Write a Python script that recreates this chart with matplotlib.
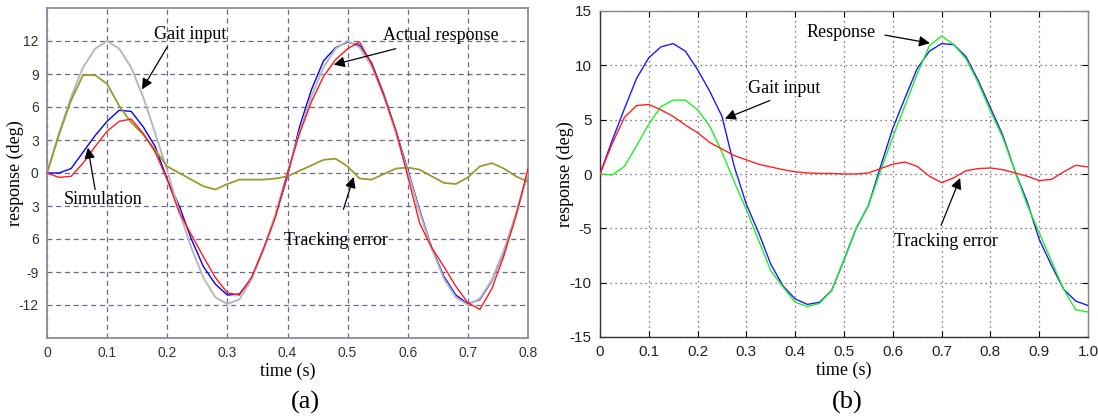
import numpy as np
import matplotlib
matplotlib.use("Agg")
import matplotlib.pyplot as plt

plt.rcParams["axes.unicode_minus"] = False

# ---------------- data: panel (a) ----------------
t_a = [round(0.02 * i, 2) for i in range(41)]
gait_a = [0, 3.6, 6.9, 9.6, 11.3, 12.0, 11.3, 9.6, 6.9, 3.6, 0.2, -3.5, -6.8, -9.5, -11.3,
          -11.9, -11.5, -9.7, -7.0, -3.7, 0, 3.7, 7.0, 9.6, 11.3, 12.0, 11.4, 9.7, 7.0, 3.7,
          0.1, -3.6, -6.9, -9.6, -11.3, -12.0, -11.4, -9.7, -7.0, -3.7, 0]
sim_a = [0, 0.0, 0.4, 1.9, 3.4, 4.7, 5.7, 5.6, 4.2, 2.4, -0.6, -3.0, -6.0, -8.5, -10.1,
         -11.1, -11.0, -9.6, -6.9, -3.9, -0.3, 4.2, 7.6, 10.2, 11.4, 11.9, 11.6, 10.0, 7.2,
         3.9, 0.3, -3.4, -6.8, -9.4, -11.1, -11.9, -11.5, -9.8, -7.1, -3.8, 0]
actual_a = [0, -0.4, -0.3, 0.9, 2.4, 3.8, 4.7, 4.9, 3.6, 1.9, -0.6, -3.6, -5.6, -7.6, -9.5,
            -10.9, -11.1, -9.5, -6.9, -4.0, 0, 3.6, 6.5, 8.8, 10.3, 11.3, 11.9, 9.9, 7.1,
            3.9, -0.3, -4.6, -6.8, -8.5, -10.3, -11.8, -12.4, -10.5, -7.5, -3.9, 0.4]
error_a = [0, 3.5, 6.6, 8.9, 8.9, 8.1, 6.1, 4.6, 3.5, 2.1, 0.6, 0.0, -0.6, -1.2, -1.5,
           -1.0, -0.6, -0.6, -0.6, -0.5, -0.3, 0.2, 0.7, 1.2, 1.3, 0.6, -0.5, -0.6, -0.1,
           0.4, 0.5, 0.3, -0.3, -0.9, -1.0, -0.4, 0.6, 0.9, 0.4, -0.3, -0.8]
yticks_a = [-12, -9, -6, -3, 0, 3, 6, 9, 12]
ylabels_a = ["-12", "-9", "6", "3", "0", "3", "6", "9", "12"]
xticks_a = [0, 0.1, 0.2, 0.3, 0.4, 0.5, 0.6, 0.7, 0.8]
xlabels_a = ["0", "0.1", "0.2", "0.3", "0.4", "0.5", "0.6", "0.7", "0.8"]

# ---------------- data: panel (b) ----------------
t_b = [round(0.025 * i, 3) for i in range(41)]
gait_b = [0, 3.1, 6.0, 8.8, 10.7, 11.7, 12.0, 11.3, 9.6, 7.6, 5.3, 0.7, -2.8, -5.4, -8.3,
          -10.3, -11.5, -12.0, -11.8, -10.7, -7.9, -5.0, -2.9, 0.7, 4.2, 7.0, 9.7, 11.3,
          12.0, 11.9, 10.8, 8.6, 6.1, 3.6, 0.3, -2.5, -6.0, -8.4, -10.6, -11.7, -12.1]
resp_b = [0, -0.1, 0.7, 2.6, 4.6, 6.2, 6.8, 6.8, 5.9, 4.4, 2.0, -0.7, -3.3, -6.1, -8.9,
          -10.4, -11.8, -12.2, -11.9, -10.7, -7.9, -5.0, -2.9, 0.3, 3.4, 6.3, 9.2, 11.8,
          12.7, 11.9, 10.6, 8.4, 5.8, 3.4, 0.3, -2.8, -5.4, -8.0, -10.6, -12.5, -12.7]
error_b = [0, 2.8, 5.2, 6.3, 6.4, 5.9, 5.3, 4.5, 3.8, 2.9, 2.3, 1.7, 1.3, 0.9, 0.65,
           0.4, 0.2, 0.1, 0.05, 0.05, 0.0, 0.0, 0.1, 0.5, 0.9, 1.1, 0.7, -0.2, -0.8,
           -0.35, 0.3, 0.5, 0.55, 0.4, 0.1, -0.2, -0.6, -0.5, 0.2, 0.8, 0.65]
yticks_b = [-15, -10, -5, 0, 5, 10, 15]
xticks_b = [0, 0.1, 0.2, 0.3, 0.4, 0.5, 0.6, 0.7, 0.8, 0.9, 1.0]
xlabels_b = ["0", "0.1", "0.2", "0.3", "0.4", "0.5", "0.6", "0.7", "0.8", "0.9", "1.0"]

SERIF = "Liberation Serif"
SANS = "Liberation Sans"

fig = plt.figure(figsize=(10.98, 4.20), dpi=100)
fig.patch.set_facecolor("white")

W, H = 1098.0, 420.0
def rect(x0, y0, x1, y1):
    return [x0 / W, 1 - y1 / H, (x1 - x0) / W, (y1 - y0) / H]

arrow = dict(arrowstyle="-|>", color="black", lw=0.9, mutation_scale=16,
             shrinkA=0, shrinkB=0)

# ---------------- panel (a) ----------------
ax = fig.add_axes(rect(47, 8, 528, 338))
ax.plot(t_a, sim_a, color="#0000ff", lw=1.0, zorder=3)
ax.plot(t_a, gait_a, color="#b8b8b8", lw=1.4, zorder=4)
ax.plot(t_a, error_a, color="#9a9a30", lw=1.3, zorder=4)
ax.plot(t_a, actual_a, color="#ff1a1a", lw=1.0, zorder=5)
ax.set_xlim(0, 0.8)
ax.set_ylim(-15, 15)
ax.set_xticks(xticks_a)
ax.set_xticklabels(xlabels_a)
ax.set_yticks(yticks_a)
ax.set_yticklabels(ylabels_a)
ax.tick_params(length=0, labelsize=10, labelcolor="#333333", pad=6)
for lab in ax.get_xticklabels() + ax.get_yticklabels():
    lab.set_family(SANS)
ax.grid(True, linestyle=(0, (4, 3)), color="#6a6a8c", lw=0.9)
for s in ax.spines.values():
    s.set_color("#8a8aa6")
    s.set_linewidth(1.3)
ax.set_xlabel("time (s)", family=SERIF, fontsize=13, labelpad=2)
ax.set_ylabel("response (deg)", family=SERIF, fontsize=13)
ax.yaxis.set_label_coords((24 - 47) / 481.0, 0.5)

ax.annotate("", xy=(0.158, 7.6), xytext=(0.2, 11.46), arrowprops=arrow, zorder=6)
ax.text(0.238, 12.6, "Gait input", family=SERIF, fontsize=13, ha="center", va="center")
ax.annotate("", xy=(0.068, 2.3), xytext=(0.08, -1.5), arrowprops=arrow, zorder=6)
ax.text(0.093, -2.4, "Simulation", family=SERIF, fontsize=13, ha="center", va="center")
ax.annotate("", xy=(0.477, 9.85), xytext=(0.58, 11.3), arrowprops=arrow, zorder=6)
ax.text(0.655, 12.5, "Actual response", family=SERIF, fontsize=13, ha="center", va="center")
ax.annotate("", xy=(0.51, -0.36), xytext=(0.493, -3.3), arrowprops=arrow, zorder=6)
ax.text(0.48, -6.1, "Tracking error", family=SERIF, fontsize=13, ha="center", va="center")

fig.text(305 / W, 1 - 402 / H, "(a)", family=SERIF, fontsize=19, ha="center", va="center")

# ---------------- panel (b) ----------------
bx = fig.add_axes(rect(600, 11, 1088, 337))
bx.plot(t_b, gait_b, color="#1a1aff", lw=1.0, zorder=3)
bx.plot(t_b, resp_b, color="#22ee22", lw=1.0, zorder=4)
bx.plot(t_b, error_b, color="#ff2020", lw=1.0, zorder=5)
bx.set_xlim(0, 1.0)
bx.set_ylim(-15, 15)
bx.set_xticks(xticks_b)
bx.set_xticklabels(xlabels_b)
bx.set_yticks(yticks_b)
bx.tick_params(direction="in", length=4, width=0.8, top=True, right=True,
               labelsize=11, labelcolor="#222222", pad=6)
for lab in bx.get_xticklabels() + bx.get_yticklabels():
    lab.set_family(SANS)
bx.grid(True, linestyle=(0, (1, 3)), color="#555555", lw=0.9)
for s in bx.spines.values():
    s.set_color("#333333")
    s.set_linewidth(1.0)
bx.spines["right"].set_color("#888888")
bx.spines["top"].set_color("#888888")
bx.set_xlabel("time (s)", family=SERIF, fontsize=13, labelpad=2)
bx.set_ylabel("response (deg)", family=SERIF, fontsize=13)
bx.yaxis.set_label_coords((574 - 600) / 488.0, 0.5)

bx.annotate("", xy=(0.676, 12.04), xytext=(0.584, 12.78), arrowprops=arrow, zorder=6)
bx.text(0.494, 13.06, "Response", family=SERIF, fontsize=13, ha="center", va="center")
bx.annotate("", xy=(0.256, 5.09), xytext=(0.348, 6.76), arrowprops=arrow, zorder=6)
bx.text(0.377, 7.87, "Gait input", family=SERIF, fontsize=13, ha="center", va="center")
bx.annotate("", xy=(0.738, -0.37), xytext=(0.699, -4.72), arrowprops=arrow, zorder=6)
bx.text(0.709, -6.2, "Tracking error", family=SERIF, fontsize=13, ha="center", va="center")

fig.text(847 / W, 1 - 402 / H, "(b)", family=SERIF, fontsize=19, ha="center", va="center")

fig.savefig("out.png", dpi=100, facecolor="white")
